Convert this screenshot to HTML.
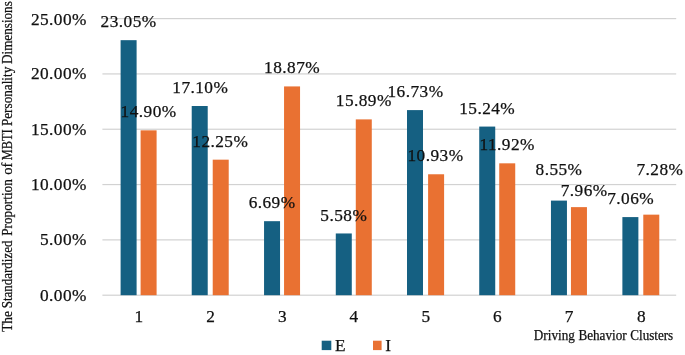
<!DOCTYPE html><html><head><meta charset="utf-8"><title>chart</title><style>html,body{margin:0;padding:0;background:#fff}svg{display:block}text{font-family:"Liberation Serif",serif;fill:#111;stroke:#111;stroke-width:0.25px}.n{letter-spacing:0.45px}</style></head><body>
<svg width="685" height="355" viewBox="0 0 685 355">
<rect width="685" height="355" fill="#fff"/>
<rect x="102.4" y="18.00" width="573.8" height="1.2" fill="#d2d2d2"/>
<rect x="102.4" y="73.32" width="573.8" height="1.2" fill="#d2d2d2"/>
<rect x="102.4" y="128.64" width="573.8" height="1.2" fill="#d2d2d2"/>
<rect x="102.4" y="183.96" width="573.8" height="1.2" fill="#d2d2d2"/>
<rect x="102.4" y="239.28" width="573.8" height="1.2" fill="#d2d2d2"/>
<rect x="102.4" y="294.60" width="573.8" height="1.2" fill="#d2d2d2"/>
<rect x="120.60" y="40.17" width="16" height="255.03" fill="#156082"/>
<rect x="140.60" y="130.35" width="16" height="164.85" fill="#E97132"/>
<rect x="191.72" y="106.01" width="16" height="189.19" fill="#156082"/>
<rect x="212.72" y="159.67" width="16" height="135.53" fill="#E97132"/>
<rect x="264.05" y="221.18" width="16" height="74.02" fill="#156082"/>
<rect x="284.05" y="86.42" width="16" height="208.78" fill="#E97132"/>
<rect x="335.78" y="233.46" width="16" height="61.74" fill="#156082"/>
<rect x="355.78" y="119.39" width="16" height="175.81" fill="#E97132"/>
<rect x="407.00" y="110.10" width="16" height="185.10" fill="#156082"/>
<rect x="428.10" y="174.27" width="16" height="120.93" fill="#E97132"/>
<rect x="479.23" y="126.58" width="16" height="168.62" fill="#156082"/>
<rect x="499.23" y="163.32" width="16" height="131.88" fill="#E97132"/>
<rect x="550.95" y="200.60" width="16" height="94.60" fill="#156082"/>
<rect x="570.95" y="207.13" width="16" height="88.07" fill="#E97132"/>
<rect x="622.38" y="217.09" width="16" height="78.11" fill="#156082"/>
<rect x="643.28" y="214.65" width="16" height="80.55" fill="#E97132"/>
<text class="n" x="86.9" y="24.5" font-size="17.3" text-anchor="end">25.00%</text>
<text class="n" x="86.9" y="79.3" font-size="17.3" text-anchor="end">20.00%</text>
<text class="n" x="86.9" y="134.6" font-size="17.3" text-anchor="end">15.00%</text>
<text class="n" x="86.9" y="190.0" font-size="17.3" text-anchor="end">10.00%</text>
<text class="n" x="86.9" y="245.3" font-size="17.3" text-anchor="end">5.00%</text>
<text class="n" x="86.9" y="300.6" font-size="17.3" text-anchor="end">0.00%</text>
<text x="138.8" y="322.4" font-size="17.3" text-anchor="middle">1</text>
<text x="210.5" y="322.4" font-size="17.3" text-anchor="middle">2</text>
<text x="282.2" y="322.4" font-size="17.3" text-anchor="middle">3</text>
<text x="353.9" y="322.4" font-size="17.3" text-anchor="middle">4</text>
<text x="425.7" y="322.4" font-size="17.3" text-anchor="middle">5</text>
<text x="497.4" y="322.4" font-size="17.3" text-anchor="middle">6</text>
<text x="569.1" y="322.4" font-size="17.3" text-anchor="middle">7</text>
<text x="641.2" y="322.4" font-size="17.3" text-anchor="middle">8</text>
<text x="128.6" y="27.2" class="n" font-size="17.3" text-anchor="middle">23.05%</text>
<text x="148.6" y="117.3" class="n" font-size="17.3" text-anchor="middle">14.90%</text>
<text x="200.3" y="93.0" class="n" font-size="17.3" text-anchor="middle">17.10%</text>
<text x="220.3" y="146.7" class="n" font-size="17.3" text-anchor="middle">12.25%</text>
<text x="272.1" y="208.2" class="n" font-size="17.3" text-anchor="middle">6.69%</text>
<text x="292.1" y="73.4" class="n" font-size="17.3" text-anchor="middle">18.87%</text>
<text x="343.8" y="220.5" class="n" font-size="17.3" text-anchor="middle">5.58%</text>
<text x="363.8" y="106.4" class="n" font-size="17.3" text-anchor="middle">15.89%</text>
<text x="415.5" y="97.1" class="n" font-size="17.3" text-anchor="middle">16.73%</text>
<text x="435.5" y="161.3" class="n" font-size="17.3" text-anchor="middle">10.93%</text>
<text x="487.2" y="113.6" class="n" font-size="17.3" text-anchor="middle">15.24%</text>
<text x="507.2" y="150.3" class="n" font-size="17.3" text-anchor="middle">11.92%</text>
<text x="559.0" y="174.6" class="n" font-size="17.3" text-anchor="middle">8.55%</text>
<text x="584.2" y="195.6" class="n" font-size="17.3" text-anchor="middle">7.96%</text>
<text x="630.7" y="204.1" class="n" font-size="17.3" text-anchor="middle">7.06%</text>
<text x="659.9" y="174.7" class="n" font-size="17.3" text-anchor="middle">7.28%</text>
<text x="533.8" y="340.2" font-size="14" textLength="41.1" lengthAdjust="spacingAndGlyphs">Driving</text>
<text x="578.4" y="340.2" font-size="14" textLength="48.3" lengthAdjust="spacingAndGlyphs">Behavior</text>
<text x="630.3" y="340.2" font-size="14" textLength="42.9" lengthAdjust="spacingAndGlyphs">Clusters</text>
<text transform="translate(11.5,331.8) rotate(-90)" font-size="14" textLength="20.8" lengthAdjust="spacingAndGlyphs">The</text>
<text transform="translate(11.5,308.3) rotate(-90)" font-size="14" textLength="67.8" lengthAdjust="spacingAndGlyphs">Standardized</text>
<text transform="translate(11.5,235.8) rotate(-90)" font-size="14" textLength="56.6" lengthAdjust="spacingAndGlyphs">Proportion</text>
<text transform="translate(11.5,174.8) rotate(-90)" font-size="14" textLength="12.1" lengthAdjust="spacingAndGlyphs">of</text>
<text transform="translate(11.5,160.3) rotate(-90)" font-size="14" textLength="30.9" lengthAdjust="spacingAndGlyphs">MBTI</text>
<text transform="translate(11.5,126.1) rotate(-90)" font-size="14" textLength="59.4" lengthAdjust="spacingAndGlyphs">Personality</text>
<text transform="translate(11.5,64.0) rotate(-90)" font-size="14" textLength="62.8" lengthAdjust="spacingAndGlyphs">Dimensions</text>
<rect x="321.7" y="340.7" width="9.6" height="9.4" fill="#156082"/>
<text x="335" y="351" font-size="17.3">E</text>
<rect x="373" y="340.7" width="8.6" height="9.4" fill="#E97132"/>
<text x="385.2" y="351" font-size="17.3">I</text>
</svg></body></html>
